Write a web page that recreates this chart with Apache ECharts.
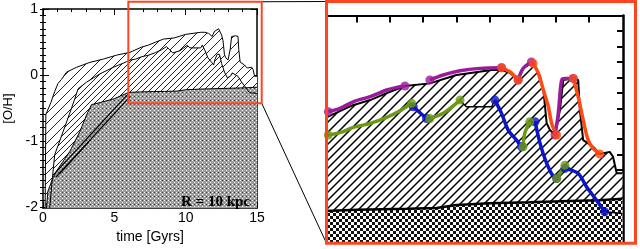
<!DOCTYPE html>
<html><head><meta charset="utf-8">
<script src="https://cdn.jsdelivr.net/npm/echarts@6/dist/echarts.min.js"></script>
<style>html,body{margin:0;padding:0;background:#fff}#c{width:640px;height:249px}</style>
</head><body><div id="c"></div>
<script>
// ---- tick labels ----
const leftXTicks = [0, 5, 10, 15];
const leftYTicks = [-2, -1, 0, 1];
const zoomXTicks = [7, 8, 9, 10, 11, 12, 13, 14];
const zoomYTicks = [-0.4, -0.3, -0.2, -0.1, 0, 0.1, 0.2, 0.3, 0.4, 0.5, 0.6, 0.7, 0.8, 0.9];
const panelLabel = 'R = 10 kpc';

// ---- band upper envelopes [time, [O/H]] ----
const outerTop = [[0.15,-2.02],[0.2,-0.6],[0.55,-0.42],[0.82,-0.25],[1.05,-0.13],[1.29,-0.07],[1.64,0.04],[2.34,0.115],[3.28,0.19],[4.22,0.24],[5.16,0.3],[6.1,0.343],[6.88,0.42],[7.4,0.453],[7.9,0.498],[8.45,0.544],[9.2,0.561],[10.0,0.615],[11.06,0.647],[11.36,0.647],[11.61,0.63],[11.86,0.583],[12.01,0.658],[12.31,0.7],[12.52,0.604],[12.62,0.518],[12.72,0.304],[12.82,0.259],[12.97,0.227],[13.12,0.388],[13.22,0.583],[13.52,0.594],[13.67,0.583],[13.72,0.388],[13.82,0.194],[14.12,0.151],[14.32,0.104],[14.62,0.118],[14.72,0.086],[14.83,-0.02],[15.0,-0.02]];
const middleTop = [[0.47,-2.02],[0.66,-1.56],[0.82,-1.21],[1.41,-0.86],[1.99,-0.51],[2.23,-0.36],[2.46,-0.21],[3.05,-0.11],[3.98,0.015],[4.92,0.115],[5.86,0.2],[6.1,0.225],[6.5,0.24],[6.9,0.275],[7.4,0.3],[7.9,0.34],[8.3,0.38],[8.65,0.43],[8.7,0.41],[9.1,0.334],[9.2,0.334],[9.6,0.367],[10.11,0.45],[10.3,0.41],[11.06,0.41],[11.16,0.453],[11.36,0.367],[11.56,0.259],[11.81,0.194],[11.96,0.151],[12.06,0.238],[12.21,0.313],[12.37,0.313],[12.52,0.173],[12.72,0.043],[12.92,-0.043],[13.02,-0.054],[13.12,-0.022],[13.27,0.03],[13.67,-0.022],[13.92,-0.108],[14.22,-0.194],[14.47,-0.27],[15.0,-0.28]];
const innerTop = [[0.24,-2.02],[0.35,-1.76],[0.7,-1.56],[0.94,-1.46],[1.41,-1.31],[1.88,-1.16],[2.58,-0.86],[3.05,-0.61],[3.4,-0.45],[4.0,-0.42],[5.0,-0.36],[6.0,-0.265],[7.0,-0.256],[8.5,-0.25],[9.4,-0.245],[10.0,-0.225],[11.0,-0.215],[12.2,-0.208],[13.4,-0.2],[14.3,-0.195],[15.0,-0.185]];
const diagLine1 = [[0.72,-1.52],[5.95,-0.29]];
const diagLine2 = [[0.9,-1.55],[6.1,-0.33]];
const diagLine3 = [[1.15,-1.5],[3.2,-1.02]];

// ---- coloured tracks in the zoom panel ----
const purpleSegs = [
  [[6.14,0.378],[6.49,0.399],[6.89,0.442],[7.4,0.475],[7.9,0.518],[8.2,0.535],[8.45,0.544]],
  [[9.2,0.583],[9.6,0.615],[10.11,0.643],[10.71,0.658],[11.36,0.662]],
  [[11.86,0.583],[12.01,0.658],[12.26,0.7]],
  [[12.97,0.227],[13.07,0.367],[13.17,0.583],[13.27,0.593],[13.52,0.593]]
];
const orangeSegs = [
  [[11.36,0.662],[11.61,0.636],[11.86,0.583]],
  [[12.31,0.69],[12.47,0.626],[12.62,0.518],[12.77,0.41],[12.87,0.302],[13.02,0.227]],
  [[13.52,0.593],[13.67,0.475],[13.82,0.324],[13.97,0.194],[14.12,0.14],[14.32,0.104]]
];
const blueSegs = [
  [[8.7,0.41],[9.1,0.334]],
  [[11.16,0.453],[11.36,0.367],[11.56,0.259],[11.81,0.194],[11.96,0.151]],
  [[12.37,0.313],[12.52,0.173],[12.72,0.043],[12.92,-0.043],[13.02,-0.054]],
  [[13.27,0.011],[13.67,-0.022],[13.92,-0.108],[14.22,-0.194],[14.47,-0.27]]
];
const greenSegs = [
  [[6.14,0.227],[6.49,0.242],[6.89,0.276],[7.4,0.302],[7.9,0.341],[8.3,0.384],[8.65,0.432]],
  [[9.2,0.334],[9.6,0.367],[10.11,0.453]],
  [[12.01,0.151],[12.06,0.238],[12.21,0.313]],
  [[13.02,-0.054],[13.12,-0.022],[13.27,0.032]]
];
const zoomBoxX = [5.98, 15.33];
const zoomBoxY = [-0.43, 1.11];

// ---- patterns ----
function hatch(size, lw, color) {
  const c = document.createElement('canvas'); c.width = c.height = size;
  const g = c.getContext('2d');
  g.fillStyle = '#fff'; g.fillRect(0, 0, size, size);
  g.strokeStyle = color; g.lineWidth = lw; g.beginPath();
  g.moveTo(0, size); g.lineTo(size, 0);
  g.moveTo(-2, 2); g.lineTo(2, -2);
  g.moveTo(size - 2, size + 2); g.lineTo(size + 2, size - 2);
  g.stroke();
  return { image: c, repeat: 'repeat' };
}
function grayDots() {
  const c = document.createElement('canvas'); c.width = c.height = 4;
  const g = c.getContext('2d');
  g.fillStyle = '#9c9c9c'; g.fillRect(0, 0, 4, 4);
  g.fillStyle = '#fff'; g.fillRect(0, 0, 1, 1); g.fillRect(2, 2, 1, 1);
  g.fillStyle = '#3a3a3a'; g.fillRect(2, 0, 1, 1);
  return { image: c, repeat: 'repeat' };
}
function checker(s) {
  const c = document.createElement('canvas'); c.width = c.height = 2 * s;
  const g = c.getContext('2d');
  g.fillStyle = '#fff'; g.fillRect(0, 0, 2 * s, 2 * s);
  g.fillStyle = '#111'; g.fillRect(0, 0, s, s); g.fillRect(s, s, s, s);
  return { image: c, repeat: 'repeat' };
}

const chart = echarts.init(document.getElementById('c'), null, { renderer: 'canvas' });
const FONT = '"Liberation Sans", Arial, sans-serif';
const minorY = []; for (let v = -20; v <= 10; v++) minorY.push(Math.round(v) / 10);

function area(data, pat, lw, xi, yi, z) {
  return { type: 'line', data, xAxisIndex: xi, yAxisIndex: yi, symbol: 'none', z,
    lineStyle: { color: '#000', width: lw }, areaStyle: { color: pat, origin: 'start', opacity: 1 },
    silent: true, animation: false };
}
function plain(data, lw, xi, yi, z) {
  return { type: 'line', data, xAxisIndex: xi, yAxisIndex: yi, symbol: 'none', z,
    lineStyle: { color: '#000', width: lw }, silent: true, animation: false };
}
const series = [
  area(outerTop, hatch(10, 1, '#222'), 1, 0, 0, 2),
  area(middleTop, hatch(6, 1, '#222'), 1, 0, 0, 2),
  area(innerTop, grayDots(), 1, 0, 0, 2),
  plain(diagLine1, 1.2, 0, 0, 2), plain(diagLine2, 1.2, 0, 0, 2), plain(diagLine3, 1.2, 0, 0, 2),
  area(outerTop, hatch(10, 1.5, '#000'), 2, 2, 4, 2),
  area(middleTop, hatch(8, 1.5, '#000'), 1.5, 2, 4, 2),
  area(innerTop, checker(3), 2.5, 2, 4, 2)
];
function track(segs, color) {
  segs.forEach(seg => {
    series.push({ type: 'line', data: seg, xAxisIndex: 2, yAxisIndex: 4, symbol: 'none', smooth: 0.3, z: 3,
      lineStyle: { color, width: 3.5 }, silent: true, animation: false });
  });
  const ends = [];
  segs.forEach(seg => { ends.push(seg[0]); ends.push(seg[seg.length - 1]); });
  series.push({ type: 'scatter', data: ends, xAxisIndex: 2, yAxisIndex: 4, symbolSize: 9, z: 4,
    itemStyle: { color }, silent: true, animation: false });
}
track(purpleSegs, '#9b1b9b');
track(orangeSegs, '#ff4a14');
track(blueSegs, '#0a14c8');
track(greenSegs, '#6b9a12');

const axLine = w => ({ show: true, onZero: false, lineStyle: { color: '#000', width: w } });
const option = {
  backgroundColor: '#fff',
  animation: false,
  grid: [
    { left: 43, top: 9, width: 214, height: 203 },
    { left: 327, top: 15.5, width: 296, height: 226.5 }
  ],
  xAxis: [
    { type: 'value', gridIndex: 0, position: 'bottom', min: 0, max: 15, interval: 5,
      axisLine: axLine(1.5), splitLine: { show: false },
      axisTick: { inside: true, length: 6, lineStyle: { color: '#000' } },
      minorTick: { show: true, splitNumber: 5, length: 3, lineStyle: { color: '#000' } },
      axisLabel: { margin: 3, fontSize: 14, color: '#000', fontFamily: FONT, customValues: leftXTicks },
      name: 'time [Gyrs]', nameLocation: 'middle', nameGap: 21,
      nameTextStyle: { fontSize: 14, color: '#000', fontFamily: FONT } },
    { type: 'value', gridIndex: 0, position: 'top', min: 0, max: 15, interval: 5,
      axisLine: axLine(1.5), splitLine: { show: false },
      axisTick: { inside: true, length: 6, lineStyle: { color: '#000' } },
      minorTick: { show: true, splitNumber: 5, length: 3, lineStyle: { color: '#000' } },
      axisLabel: { show: false } },
    { type: 'value', gridIndex: 1, position: 'top', min: 6.1, max: 15.02,
      axisLine: axLine(2.2), splitLine: { show: false },
      axisTick: { inside: true, length: 7, customValues: zoomXTicks, lineStyle: { color: '#000', width: 2 } },
      axisLabel: { show: false } },
    { type: 'value', gridIndex: 1, position: 'bottom', min: 6.1, max: 15.02,
      axisLine: { show: false }, axisTick: { show: false }, axisLabel: { show: false }, splitLine: { show: false } }
  ],
  yAxis: [
    { type: 'value', gridIndex: 0, position: 'left', min: -2.02, max: 1,
      axisLine: axLine(1.5), splitLine: { show: false },
      axisTick: { inside: true, length: 6, customValues: leftYTicks, lineStyle: { color: '#000' } },
      axisLabel: { margin: 5, fontSize: 14, color: '#000', fontFamily: FONT, customValues: leftYTicks },
      name: '[O/H]', nameLocation: 'middle', nameGap: 28, nameRotate: 90,
      nameTextStyle: { fontSize: 13, color: '#000', fontFamily: FONT } },
    { type: 'value', gridIndex: 0, position: 'left', min: -2.02, max: 1,
      axisLine: { show: false }, splitLine: { show: false }, axisLabel: { show: false },
      axisTick: { inside: true, length: 3, customValues: minorY, lineStyle: { color: '#000' } } },
    { type: 'value', gridIndex: 0, position: 'right', min: -2.02, max: 1,
      axisLine: axLine(1.5), splitLine: { show: false }, axisLabel: { show: false },
      axisTick: { inside: true, length: 6, customValues: leftYTicks, lineStyle: { color: '#000' } } },
    { type: 'value', gridIndex: 0, position: 'right', min: -2.02, max: 1,
      axisLine: { show: false }, splitLine: { show: false }, axisLabel: { show: false },
      axisTick: { inside: true, length: 3, customValues: minorY, lineStyle: { color: '#000' } } },
    { type: 'value', gridIndex: 1, position: 'right', min: -0.465, max: 1,
      axisLine: axLine(2.5), splitLine: { show: false }, axisLabel: { show: false },
      axisTick: { inside: true, length: 6, customValues: zoomYTicks, lineStyle: { color: '#000', width: 2 } } },
    { type: 'value', gridIndex: 1, position: 'left', min: -0.465, max: 1,
      axisLine: { show: false }, axisTick: { show: false }, axisLabel: { show: false }, splitLine: { show: false } }
  ],
  series
};
chart.setOption(option);

// zoom box, frame and connectors
const P = (x, y) => chart.convertToPixel({ xAxisIndex: 0, yAxisIndex: 0 }, [x, y]);
const tl = P(zoomBoxX[0], zoomBoxY[1]);
const br = P(zoomBoxX[1], zoomBoxY[0]);
const RX = 326.5, RY = 1.5, RW = 309, RH = 241.8;
const RED = '#ff4422';
chart.setOption({
  graphic: [
    { type: 'rect', z: 100, silent: true, shape: { x: tl[0], y: tl[1], width: br[0] - tl[0], height: br[1] - tl[1] },
      style: { fill: null, stroke: RED, lineWidth: 2 } },
    { type: 'rect', z: 100, silent: true, shape: { x: RX, y: RY, width: RW, height: RH },
      style: { fill: null, stroke: RED, lineWidth: 3 } },
    { type: 'line', z: 99, silent: true, shape: { x1: br[0], y1: tl[1], x2: RX, y2: RY }, style: { stroke: '#000', lineWidth: 1 } },
    { type: 'line', z: 99, silent: true, shape: { x1: br[0], y1: br[1], x2: RX, y2: RY + RH }, style: { stroke: '#000', lineWidth: 1 } },
    { type: 'text', z: 100, silent: true, style: { text: panelLabel, x: 250, y: 202, align: 'right', verticalAlign: 'middle',
      font: 'bold 15px "Liberation Serif", "DejaVu Serif", serif', fill: '#000' } }
  ]
});
</script></body></html>
